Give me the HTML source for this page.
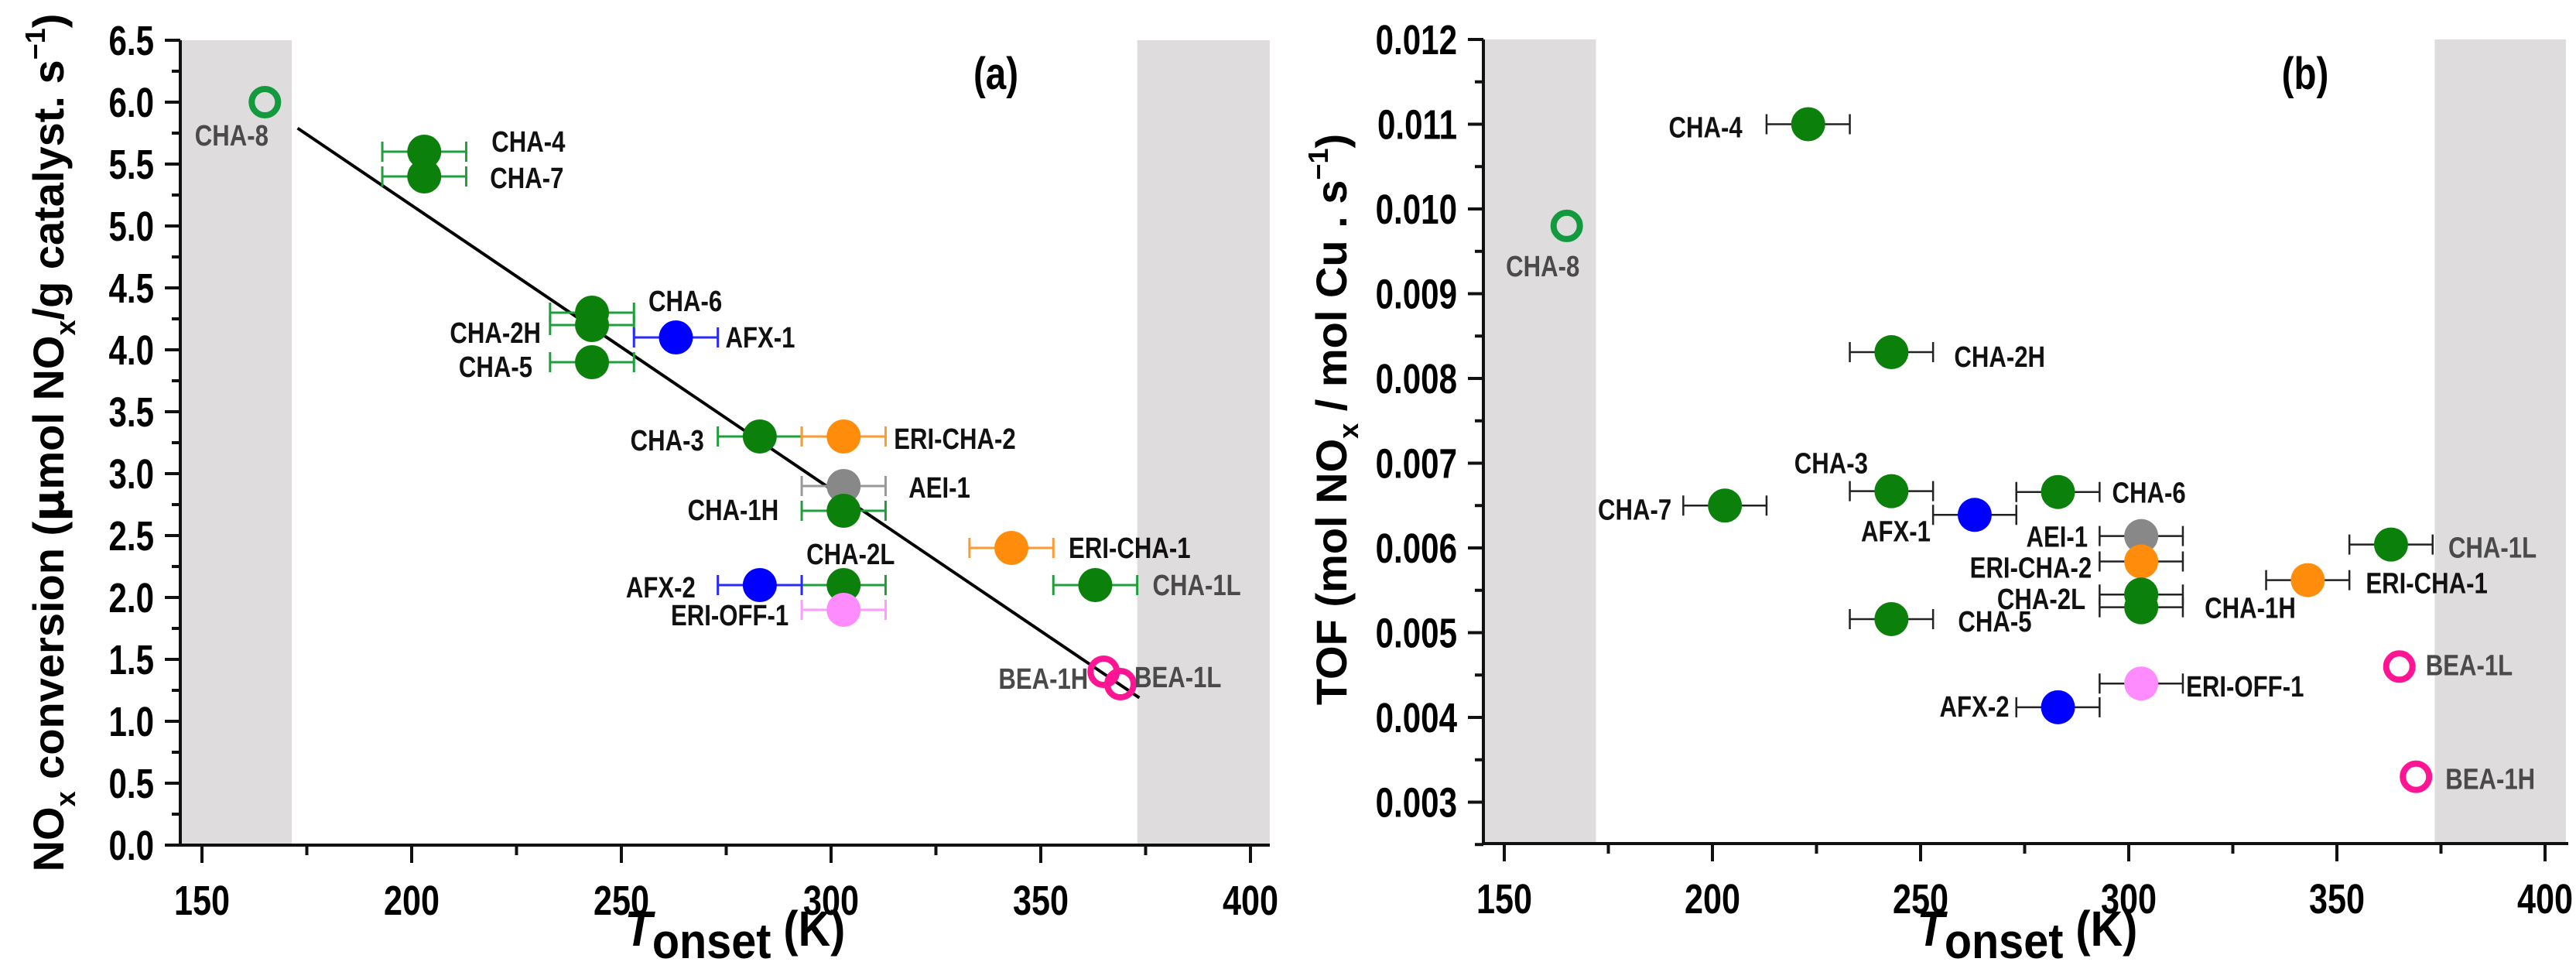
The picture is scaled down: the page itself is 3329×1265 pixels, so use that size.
<!DOCTYPE html>
<html><head><meta charset="utf-8">
<style>
html,body{margin:0;padding:0;background:#fff;}
svg{display:block;font-family:"Liberation Sans Narrow","Liberation Sans",sans-serif;font-weight:bold;}
</style></head>
<body>
<svg id="fig" width="3329" height="1265" viewBox="0 0 3329 1265" xmlns="http://www.w3.org/2000/svg">
<rect width="3329" height="1265" fill="#fff"/>
<g id="pa"></g>
<g id="pb"></g>
</svg>
<script>
// ---- shared data ----
const samplesA = ["CHA-8","CHA-4","CHA-7","CHA-6","CHA-2H","AFX-1","CHA-5","CHA-3","ERI-CHA-2","AEI-1","CHA-1H","ERI-CHA-1","CHA-2L","AFX-2","CHA-1L","ERI-OFF-1","BEA-1H","BEA-1L"];
const tonsetA = [165,203,203,243,243,263,243,283,303,303,303,343,303,283,363,303,365,369];
const noxConv = [6.0,5.6,5.4,4.3,4.2,4.1,3.9,3.3,3.3,2.9,2.7,2.4,2.1,2.1,2.1,1.9,1.4,1.3];
const errA = [0,10,10,10,10,10,10,10,10,10,10,10,10,10,10,10,0,0];
const fitStart = [172.8,5.79];
const fitEnd = [373.5,1.19];
const samplesB = ["CHA-4","CHA-8","CHA-2H","CHA-3","CHA-6","CHA-7","AFX-1","AEI-1","CHA-1L","ERI-CHA-2","ERI-CHA-1","CHA-2L","CHA-1H","CHA-5","BEA-1L","ERI-OFF-1","AFX-2","BEA-1H"];
const tonsetB = [223,165,243,243,283,203,263,303,363,303,343,303,303,243,365,303,283,369];
const tofB = [0.0110,0.0098,0.00831,0.00667,0.00666,0.0065,0.00639,0.00614,0.00604,0.00584,0.00562,0.00545,0.0053,0.00516,0.0046,0.0044,0.00412,0.0033];
const errB = [10,0,10,10,10,10,10,10,10,10,10,10,10,10,0,10,10,0];
const xTicks = [150,200,250,300,350,400];
const yTicksA = ["0.0","0.5","1.0","1.5","2.0","2.5","3.0","3.5","4.0","4.5","5.0","5.5","6.0","6.5"];
const yTicksB = ["0.003","0.004","0.005","0.006","0.007","0.008","0.009","0.010","0.011","0.012"];

const STY = {
 "CHA":{fill:"#0b800b",err:"#1f9e3c"},
 "AFX":{fill:"#0000ff",err:"#2a2aff"},
 "ERI-CHA":{fill:"#ff8c0a",err:"#ff9a30"},
 "AEI":{fill:"#888888",err:"#999"},
 "ERI-OFF":{fill:"#ff8cff",err:"#ff9cff"},
 "BEA":{fill:"#ff1493",err:"#ff1493"}
};
function styleOf(n){
  if(n.startsWith("ERI-CHA"))return STY["ERI-CHA"];
  if(n.startsWith("ERI-OFF"))return STY["ERI-OFF"];
  return STY[n.split("-")[0]];
}
const openSet = ["CHA-8","BEA-1H","BEA-1L"];
const grayLabel = ["CHA-8","CHA-1L","BEA-1H","BEA-1L"];
const labA = {"CHA-8":[-43,43,"middle"],"CHA-4":[87,-13,"start"],"CHA-7":[85,2,"start"],"CHA-6":[73,-15,"start"],"CHA-2H":[-66,10,"end"],"AFX-1":[64,0,"start"],"CHA-5":[-77,6,"end"],"CHA-3":[-72,5,"end"],"ERI-CHA-2":[65,3,"start"],"AEI-1":[84,2,"start"],"CHA-1H":[-84,-1,"end"],"ERI-CHA-1":[74,0,"start"],"CHA-2L":[9,-40,"middle"],"AFX-2":[-83,3,"end"],"CHA-1L":[74,0,"start"],"ERI-OFF-1":[-71,7,"end"],"BEA-1H":[-20,9,"end"],"BEA-1L":[18,-9,"start"]};
const labB = {"CHA-4":[-85,4,"end"],"CHA-8":[-31,52,"middle"],"CHA-2H":[81,6,"start"],"CHA-3":[-78,-36,"middle"],"CHA-6":[70,1,"start"],"CHA-7":[-69,5,"end"],"AFX-1":[-57,21,"end"],"AEI-1":[-69,1,"end"],"CHA-1L":[74,4,"start"],"ERI-CHA-2":[-64,8,"end"],"ERI-CHA-1":[75,4,"start"],"CHA-2L":[-72,6,"end"],"CHA-1H":[82,1,"start"],"CHA-5":[86,3,"start"],"BEA-1L":[34,-2,"start"],"ERI-OFF-1":[58,4,"start"],"AFX-2":[-63,-1,"end"],"BEA-1H":[38,3,"start"]};

const NS="http://www.w3.org/2000/svg";
function mk(parent,tag,attrs,txt){const e=document.createElementNS(NS,tag);for(const k in attrs)e.setAttribute(k,attrs[k]);if(txt!==undefined)e.textContent=txt;parent.appendChild(e);return e;}
// condensed text helper
function ctext(parent,x,y,anchor,size,sx,fill,txt){
  return mk(parent,"text",{x:0,y:0,transform:`translate(${x},${y}) scale(${sx},1)`,"text-anchor":anchor,"font-size":size,fill:fill},txt);
}

function panel(g,cfg){
  const {X,Y,axL,axR,axT,axB,grayL,grayR,xmin,xmax} = cfg;
  let r=mk(g,"rect",{x:X(xmin),y:axT,width:X(grayL)-X(xmin),height:axB-axT,fill:"#dedcdd"});
  
  
  r=mk(g,"rect",{x:X(grayR),y:axT,width:X(xmax)-X(grayR),height:axB-axT,fill:"#dedcdd"});
  
  
  let a=mk(g,"line",{x1:axL,y1:axT,x2:axL,y2:axB+2,stroke:"#111","stroke-width":4});
  
  
  a=mk(g,"line",{x1:axL-2,y1:axB,x2:axR,y2:axB,stroke:"#111","stroke-width":4});
  
  
  for(let i=0;i<xTicks.length;i++){
    const t=xTicks[i],x=X(t);
    mk(g,"line",{x1:x,y1:axB,x2:x,y2:axB+23,stroke:"#111","stroke-width":4});
    const tl=ctext(g,x,axB+90,"middle",54,0.8,"#000",String(t));
    
    
    if(i<xTicks.length-1) mk(g,"line",{x1:X(t+25),y1:axB,x2:X(t+25),y2:axB+13,stroke:"#111","stroke-width":4});
  }
  const yt=cfg.yTicks;
  for(let i=0;i<yt.length;i++){
    const v=parseFloat(yt[i]),y=Y(v);
    mk(g,"line",{x1:axL-20,y1:y,x2:axL,y2:y,stroke:"#111","stroke-width":4});
    const tl=ctext(g,axL-34,y+19,"end",54,0.78,"#000",yt[i]);
    
    
    if(i<yt.length-1){const ym=Y(v+cfg.yStep/2);mk(g,"line",{x1:axL-11,y1:ym,x2:axL,y2:ym,stroke:"#111","stroke-width":4});}
  }
  if(cfg.yBelow!==undefined){const ym=Y(cfg.yBelow);mk(g,"line",{x1:axL-11,y1:ym,x2:axL,y2:ym,stroke:"#111","stroke-width":4});}
}

function points(g,cfg,names,xs,ys,errs,labs,errColorFixed){
  const {X,Y}=cfg;
  for(let i=0;i<names.length;i++){
    const n=names[i],st=styleOf(n),cx=X(xs[i]),cy=Y(ys[i]);
    const pg=mk(g,"g",{});
    
    
    if(errs[i]>0){
      const ec=errColorFixed||st.err,x1=X(xs[i]-errs[i]),x2=X(xs[i]+errs[i]);
      const eb=mk(pg,"path",{d:`M${x1},${cy}H${x2}M${x1},${cy-13}V${cy+13}M${x2},${cy-13}V${cy+13}`,stroke:ec,"stroke-width":errColorFixed?2.5:3,fill:"none"});
      
      
    }
    let m;
    if(openSet.includes(n)){
      const col=n==="CHA-8"?"#139a3e":st.fill;
      m=mk(pg,"circle",{cx:cx,cy:cy,r:17,fill:"none",stroke:col,"stroke-width":8});
    } else {
      m=mk(pg,"circle",{cx:cx,cy:cy,r:22,fill:st.fill});
    }
    
    
    const L=labs[n];
    const t=ctext(pg,cx+L[0],cy+L[1]+13,L[2],38,0.82,grayLabel.includes(n)?"#4a4a4a":"#111",n);
    
    
  }
}

const gA=document.getElementById("pa");
const cfgA={X:t=>261+(t-150)*5.42,Y:v=>1092-160*v,axL:233,axR:1641,axT:52,axB:1092,grayL:171.4,grayR:373,xmin:144.8,xmax:404.6,yTicks:yTicksA,yStep:0.5};
panel(gA,cfgA);
const fit=mk(gA,"line",{x1:cfgA.X(fitStart[0]),y1:cfgA.Y(fitStart[1]),x2:cfgA.X(fitEnd[0]),y2:cfgA.Y(fitEnd[1]),stroke:"#000","stroke-width":4});


points(gA,cfgA,samplesA,tonsetA,noxConv,errA,labA,null);
const gB=document.getElementById("pb");
const cfgB={X:t=>1944+(t-150)*5.38,Y:v=>51+(0.012-v)*109500,axL:1917,axR:3319,axT:51,axB:1090,grayL:172,grayR:373.5,xmin:145,xmax:405,yTicks:yTicksB,yStep:0.001,yBelow:0.0025};
panel(gB,cfgB);
points(gB,cfgB,samplesB,tonsetB,tofB,errB,labB,"#222");
</script>
<svg style="position:absolute;left:0;top:0" width="3329" height="1265" xmlns="http://www.w3.org/2000/svg">
<g font-family="'Liberation Sans',sans-serif" font-weight="bold" fill="#000">
<text transform="translate(1287,115) scale(0.82,1)" font-size="58" text-anchor="middle">(a)</text>
<text transform="translate(2979,115) scale(0.82,1)" font-size="58" text-anchor="middle">(b)</text>
<text transform="translate(82,572) rotate(-90)" font-size="56" text-anchor="middle">NO<tspan font-size="36" dy="15">x</tspan><tspan dy="-15"> conversion  (</tspan><tspan font-family="'DejaVu Sans',sans-serif">μ</tspan>mol NO<tspan font-size="36" dy="15">x</tspan><tspan dy="-15">/g catalyst. s</tspan><tspan font-size="36" dy="-24">−1</tspan><tspan dy="24">)</tspan></text>
<text transform="translate(1740,542) rotate(-90)" font-size="56" text-anchor="middle">TOF (mol NO<tspan font-size="36" dy="15">x</tspan><tspan dy="-15"> / mol Cu . s</tspan><tspan font-size="36" dy="-24">−1</tspan><tspan dy="24">)</tspan></text>
<text transform="translate(950,1222) scale(0.9,1)" font-size="64" text-anchor="middle"><tspan font-style="italic">T</tspan><tspan dy="16">onset</tspan><tspan dy="-16"> (K)</tspan></text>
<text transform="translate(2620,1222) scale(0.9,1)" font-size="64" text-anchor="middle"><tspan font-style="italic">T</tspan><tspan dy="16">onset</tspan><tspan dy="-16"> (K)</tspan></text>
</g>
</svg>
</body></html>
